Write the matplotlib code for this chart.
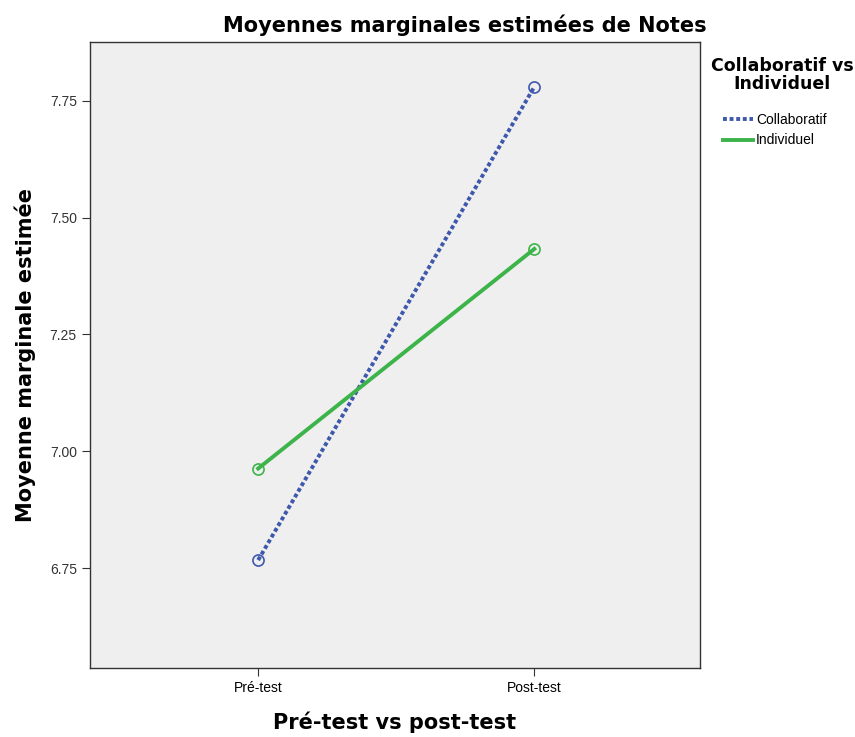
import matplotlib; matplotlib.use("Agg")
import matplotlib.pyplot as plt
from matplotlib.lines import Line2D

categories = ["Pré-test", "Post-test"]
collab = [6.767, 7.780]
indiv = [6.963, 7.433]
yticks = [6.75, 7.00, 7.25, 7.50, 7.75]

blue, green = "#3E58AC", "#3CB44A"
plt.rcParams["font.family"] = ["Liberation Sans", "DejaVu Sans"]

fig = plt.figure(figsize=(8.55, 7.37), dpi=100)
ax = fig.add_axes([90/855, 69/737, 610/855, 626/737])
ax.set_facecolor("#EFEFEF")
x = range(len(categories))
ax.plot(x, collab, color=blue, lw=2.8, ls=(0, (1, 0.7)), marker="o", ms=8,
        mfc="none", mec=blue, mew=1.2, label="Collaboratif")
ax.plot(x, indiv, color=green, lw=2.8, marker="o", ms=8,
        mfc="none", mec=green, mew=1.2, label="Individuel")
ax.set_xlim(-0.609, 1.60)
ax.set_ylim(6.536, 7.876)
ax.set_xticks(list(x)); ax.set_xticklabels(categories, fontsize=10)
ax.set_yticks(yticks); ax.set_yticklabels([f"{v:.2f}" for v in yticks], fontsize=10, color="#333333")
for s in ax.spines.values(): s.set_color("#333333"); s.set_linewidth(1)
ax.tick_params(length=6, color="#333333")
ax.set_ylabel("Moyenne marginale estimée", fontsize=15, fontweight="bold", family="DejaVu Sans", labelpad=10)
ax.set_xlabel("Pré-test vs post-test", fontsize=15, fontweight="bold", family="DejaVu Sans", labelpad=12)
fig.text(465/855, 1 - 25/737, "Moyennes marginales estimées de Notes", ha="center", va="center",
         fontsize=15, fontweight="bold", family="DejaVu Sans")
fig.text(782/855, 1 - 75/737, "Collaboratif vs\nIndividuel", ha="center", va="center",
         fontsize=12.5, fontweight="bold", family="DejaVu Sans", linespacing=0.95)
handles = [Line2D([], [], color=blue, lw=2.8, ls=(0, (1, 0.7))), Line2D([], [], color=green, lw=2.8)]
fig.legend(handles, ["Collaboratif", "Individuel"], loc="upper left", bbox_to_anchor=(717/855, 1 - 107/737),
           frameon=False, fontsize=10, handlelength=2.2, handletextpad=0.2, labelspacing=0.5, borderaxespad=0)
fig.savefig("out.png", dpi=100)
